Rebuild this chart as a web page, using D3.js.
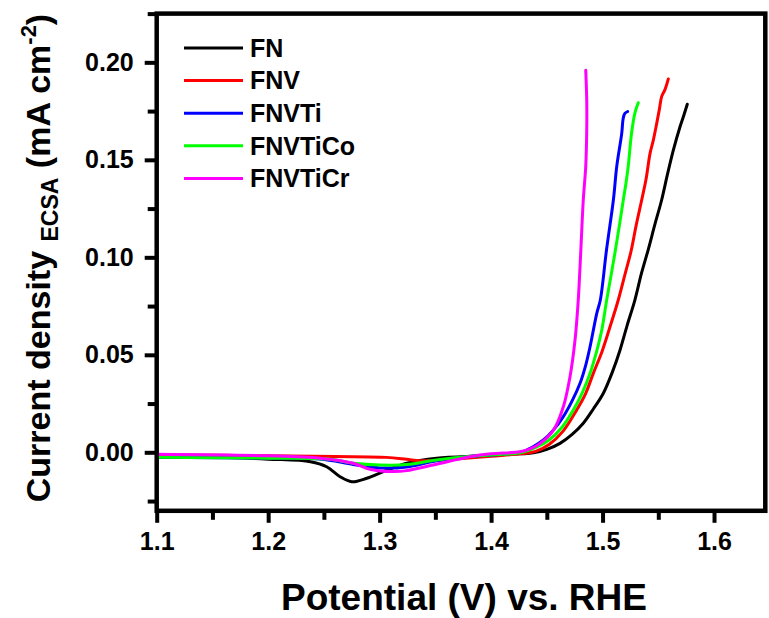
<!DOCTYPE html>
<html>
<head>
<meta charset="utf-8">
<script src="https://cdn.jsdelivr.net/npm/d3@7/dist/d3.min.js"></script>
<style>
  html, body { margin: 0; padding: 0; background: #fff; }
  svg { display: block; font-family: "Liberation Sans", Arial, sans-serif; font-weight: bold; }
</style>
</head>
<body>
<svg id="chart" width="769" height="618"></svg>
<script>
// Polarization curves, current density normalised to ECSA vs. potential (V vs. RHE)
const seriesNames = ["FN", "FNV", "FNVTi", "FNVTiCo", "FNVTiCr"];
const seriesColors = ["#000000", "#ff0000", "#0000ff", "#00ff00", "#ff00ff"];

const fn = [[1.100,-0.0024],[1.157,-0.0026],[1.200,-0.0035],[1.238,-0.0048],[1.2525,-0.0074],[1.2645,-0.0125],[1.275,-0.0151],[1.2884,-0.0133],[1.3033,-0.0099],[1.3243,-0.0056],[1.3512,-0.0030],[1.390,-0.0018],[1.426,-0.0008],[1.438,-0.0003],[1.450,0.0015],[1.4618,0.0046],[1.4727,0.0092],[1.4827,0.0149],[1.4917,0.0222],[1.5007,0.0303],[1.5087,0.0410],[1.5157,0.0525],[1.522,0.0650],[1.529,0.0781],[1.535,0.0920],[1.541,0.1040],[1.547,0.1170],[1.553,0.1294],[1.558,0.1420],[1.5635,0.1550],[1.5695,0.1670],[1.573,0.1730],[1.576,0.1785]];
const fnv = [[1.100,-0.0012],[1.200,-0.0018],[1.260,-0.0022],[1.306,-0.0026],[1.3243,-0.0036],[1.336,-0.0043],[1.350,-0.0042],[1.366,-0.0036],[1.400,-0.0020],[1.426,-0.0008],[1.440,0.0005],[1.452,0.0040],[1.4648,0.0110],[1.4768,0.0217],[1.4847,0.0300],[1.4917,0.0405],[1.4997,0.0520],[1.5067,0.0644],[1.5141,0.0781],[1.520,0.0910],[1.5255,0.1030],[1.530,0.1160],[1.5351,0.1294],[1.539,0.1400],[1.5426,0.1533],[1.5455,0.1600],[1.5486,0.1687],[1.551,0.1760],[1.553,0.1824],[1.556,0.1860],[1.559,0.1915]];
const fnvti = [[1.100,-0.0025],[1.200,-0.0030],[1.2465,-0.0034],[1.2764,-0.0062],[1.300,-0.0080],[1.3243,-0.0075],[1.350,-0.0045],[1.380,-0.0022],[1.410,-0.0010],[1.426,0.0000],[1.438,0.0030],[1.4469,0.0063],[1.456,0.0115],[1.4648,0.0183],[1.4728,0.0265],[1.4798,0.0354],[1.4848,0.0445],[1.4888,0.0542],[1.4948,0.0713],[1.498,0.0781],[1.5035,0.1036],[1.5097,0.1294],[1.5127,0.1465],[1.5172,0.1636],[1.5185,0.1712],[1.520,0.1738],[1.5225,0.1748]];
const fnvtico = [[1.100,-0.0026],[1.200,-0.0030],[1.2556,-0.0036],[1.2764,-0.0056],[1.3003,-0.0065],[1.3243,-0.0063],[1.3512,-0.0040],[1.380,-0.0022],[1.410,-0.0010],[1.426,-0.0003],[1.440,0.0025],[1.452,0.0063],[1.4638,0.0130],[1.4738,0.0217],[1.4818,0.0305],[1.4888,0.0405],[1.4948,0.0520],[1.4993,0.0627],[1.5037,0.0781],[1.508,0.0920],[1.5115,0.1036],[1.515,0.1160],[1.5186,0.1294],[1.521,0.1380],[1.523,0.1465],[1.526,0.1636],[1.529,0.1740],[1.532,0.1793]];
const fnvticr = [[1.100,-0.0010],[1.200,-0.0018],[1.2465,-0.0030],[1.2764,-0.0056],[1.2914,-0.0087],[1.3123,-0.0099],[1.3243,-0.0094],[1.348,-0.0065],[1.381,-0.0023],[1.400,-0.0008],[1.426,0.0003],[1.436,0.0020],[1.444,0.0046],[1.456,0.0114],[1.4648,0.0234],[1.4708,0.0388],[1.4753,0.0576],[1.4782,0.0781],[1.4805,0.1036],[1.4827,0.1294],[1.4849,0.1465],[1.4858,0.1650],[1.4858,0.1807],[1.4849,0.1960]];
const seriesData = [fn, fnv, fnvti, fnvtico, fnvticr];

const xMajorTicks = [1.1, 1.2, 1.3, 1.4, 1.5, 1.6];
const xMinorTicks = [1.15, 1.25, 1.35, 1.45, 1.55];
const yMajorTicks = [0.00, 0.05, 0.10, 0.15, 0.20];
const yMinorTicks = [-0.025, 0.025, 0.075, 0.125, 0.175, 0.225];

const svg = d3.select("#chart");
const plotLeft = 156.7, plotRight = 765.3, plotTop = 13.6, plotBottom = 510.8;

const x = d3.scaleLinear().domain([1.1, 1.646]).range([plotLeft, plotRight]);
const y = d3.scaleLinear().domain([-0.03, 0.225]).range([plotBottom, plotTop]);

// curves
const line = d3.line()
  .x(d => x(d[0])).y(d => y(d[1]))
  .curve(d3.curveCatmullRom.alpha(0.5));

svg.append("g").selectAll("path")
  .data(seriesData)
  .join("path")
  .attr("d", line)
  .attr("fill", "none")
  .attr("stroke", (d, i) => seriesColors[i])
  .attr("stroke-width", 3)
  .attr("stroke-linejoin", "round")
  .attr("stroke-linecap", "round");

// axes
function styleAxis(g) {
  g.select(".domain").remove();
  g.selectAll(".tick line").attr("stroke", "#000").attr("stroke-width", 4);
  g.selectAll(".tick text").attr("fill", "#000").attr("font-size", 25)
    .attr("font-family", "'Liberation Sans', Arial, sans-serif").attr("font-weight", "bold");
}

svg.append("g").attr("transform", `translate(0,${plotBottom})`)
  .call(d3.axisBottom(x).tickValues(xMinorTicks).tickSize(9).tickFormat(""))
  .call(styleAxis);
svg.append("g").attr("transform", `translate(0,${plotBottom})`)
  .call(d3.axisBottom(x).tickValues(xMajorTicks).tickSize(12).tickPadding(9).tickFormat(d3.format(".1f")))
  .call(styleAxis);
svg.append("g").attr("transform", `translate(${plotLeft},0)`)
  .call(d3.axisLeft(y).tickValues(yMinorTicks).tickSize(9).tickFormat(""))
  .call(styleAxis);
svg.append("g").attr("transform", `translate(${plotLeft},0)`)
  .call(d3.axisLeft(y).tickValues(yMajorTicks).tickSize(12).tickPadding(11).tickFormat(d3.format(".2f")))
  .call(styleAxis);

// frame
svg.append("rect")
  .attr("x", plotLeft).attr("y", plotTop)
  .attr("width", plotRight - plotLeft).attr("height", plotBottom - plotTop)
  .attr("fill", "none").attr("stroke", "#000").attr("stroke-width", 4.5);

// legend
const legend = svg.append("g");
seriesNames.forEach((name, i) => {
  const ly = 48 + i * 32.6;
  legend.append("line")
    .attr("x1", 184).attr("x2", 243).attr("y1", ly).attr("y2", ly)
    .attr("stroke", seriesColors[i]).attr("stroke-width", 3);
  legend.append("text")
    .attr("x", 250).attr("y", ly).attr("dy", "0.35em")
    .attr("font-size", 25).attr("fill", "#000")
    .text(name);
});

// axis titles
svg.append("text")
  .attr("x", 464).attr("y", 610)
  .attr("text-anchor", "middle")
  .attr("font-size", 37)
  .text("Potential (V) vs. RHE");

const yt = svg.append("text")
  .attr("transform", "translate(50,258) rotate(-90)")
  .attr("text-anchor", "middle")
  .attr("font-size", 34);
yt.append("tspan").text("Current density ");
yt.append("tspan").attr("font-size", 23).attr("dy", 8).text("ECSA");
yt.append("tspan").attr("dy", -8).text(" (mA cm");
yt.append("tspan").attr("font-size", 22).attr("dy", -14).text("-2");
yt.append("tspan").attr("dy", 14).text(")");
</script>
</body>
</html>
